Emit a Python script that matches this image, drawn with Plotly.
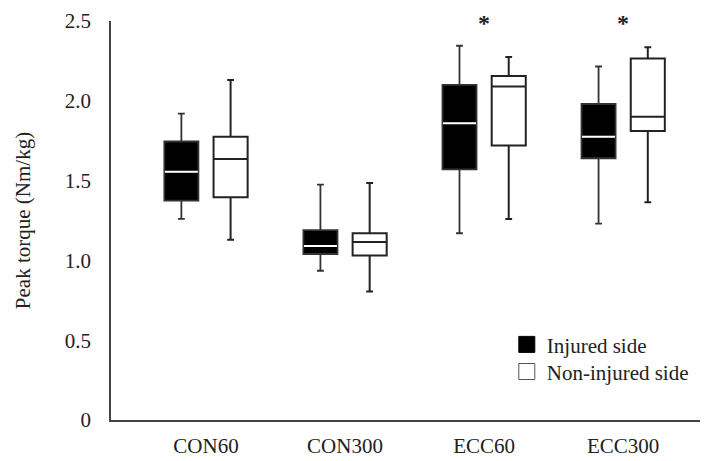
import plotly.graph_objects as go

categories = ["CON60", "CON300", "ECC60", "ECC300"]

# Injured side box statistics
inj_low = [1.26, 0.935, 1.17, 1.23]
inj_q1 = [1.375, 1.04, 1.57, 1.64]
inj_med = [1.555, 1.09, 1.86, 1.775]
inj_q3 = [1.745, 1.19, 2.10, 1.98]
inj_high = [1.92, 1.475, 2.345, 2.215]

# Non-injured side box statistics
non_low = [1.13, 0.805, 1.26, 1.365]
non_q1 = [1.395, 1.03, 1.72, 1.81]
non_med = [1.635, 1.115, 2.09, 1.90]
non_q3 = [1.775, 1.17, 2.155, 2.265]
non_high = [2.13, 1.485, 2.275, 2.335]

# Significance markers
sig_categories = ["ECC60", "ECC300"]
sig_y = [2.58, 2.58]

y_tickvals = [0, 0.5, 1.0, 1.5, 2.0, 2.5]
y_ticktext = ["0", "0.5", "1.0", "1.5", "2.0", "2.5"]

FONT = "Liberation Serif, Times New Roman, serif"
FS = 21
Y_MAX = 2.5
BOX_W = 0.245
OFF = 0.177

idx = list(range(len(categories)))
x_inj = [i - OFF for i in idx]
x_non = [i + OFF for i in idx]

fig = go.Figure()

fig.add_trace(go.Box(
    x=x_inj, q1=inj_q1, median=inj_med, q3=inj_q3,
    lowerfence=inj_low, upperfence=inj_high,
    width=BOX_W, whiskerwidth=0.2, boxpoints=False,
    fillcolor="black", line=dict(color="#333333", width=1.8),
    showlegend=False, hoverinfo="skip",
))
fig.add_trace(go.Box(
    x=x_non, q1=non_q1, median=non_med, q3=non_q3,
    lowerfence=non_low, upperfence=non_high,
    width=BOX_W, whiskerwidth=0.2, boxpoints=False,
    fillcolor="white", line=dict(color="#222222", width=2),
    showlegend=False, hoverinfo="skip",
))

# White median lines on the black boxes
mx, my = [], []
for xc, m in zip(x_inj, inj_med):
    mx += [xc - BOX_W / 2 + 0.004, xc + BOX_W / 2 - 0.004, None]
    my += [m, m, None]
fig.add_trace(go.Scatter(x=mx, y=my, mode="lines",
                         line=dict(color="white", width=2),
                         showlegend=False, hoverinfo="skip"))

# Legend entries (two legends for exact row spacing)
fig.add_trace(go.Scatter(x=[None], y=[None], mode="markers", name="Injured side",
                         legend="legend",
                         marker=dict(symbol="square", size=16, color="black",
                                     line=dict(color="black", width=1))))
fig.add_trace(go.Scatter(x=[None], y=[None], mode="markers", name="Non-injured side",
                         legend="legend2",
                         marker=dict(symbol="square", size=16, color="white",
                                     line=dict(color="#555555", width=1))))

for c, yv in zip(sig_categories, sig_y):
    fig.add_annotation(x=categories.index(c), y=yv / Y_MAX, text="<b>*</b>", showarrow=False,
                       font=dict(family=FONT, size=24, color="#222"),
                       xref="x", yref="paper", yanchor="top")

legend_style = dict(xanchor="left", yanchor="top",
                    font=dict(family=FONT, size=FS, color="#222"),
                    bgcolor="rgba(0,0,0,0)", itemsizing="trace")

fig.update_layout(
    width=700, height=453,
    margin=dict(l=103, r=0, t=13, b=41, autoexpand=False),
    paper_bgcolor="white", plot_bgcolor="white",
    font=dict(family=FONT, size=FS, color="#222"),
    legend=dict(x=0.663, y=0.24, **legend_style),
    legend2=dict(x=0.663, y=0.172, **legend_style),
    xaxis=dict(range=[-0.683, 3.61], tickmode="array", tickvals=idx,
               ticktext=categories, showgrid=False, zeroline=False,
               showline=True, linecolor="#444", linewidth=1.8, ticks="",
               automargin=False,
               ticklabelstandoff=6, tickfont=dict(family=FONT, size=FS, color="#222")),
    yaxis=dict(range=[0, Y_MAX], tickmode="array", tickvals=y_tickvals,
               ticktext=y_ticktext, showgrid=False, zeroline=False,
               showline=True, linecolor="#444", linewidth=1.8, ticks="",
               automargin=False,
               ticklabelstandoff=14, tickfont=dict(family=FONT, size=FS, color="#222")),
)
fig.update_yaxes(title=dict(text="Peak torque (Nm/kg)", standoff=28,
                            font=dict(family=FONT, size=FS, color="#222")))

fig.write_html("out.html")
